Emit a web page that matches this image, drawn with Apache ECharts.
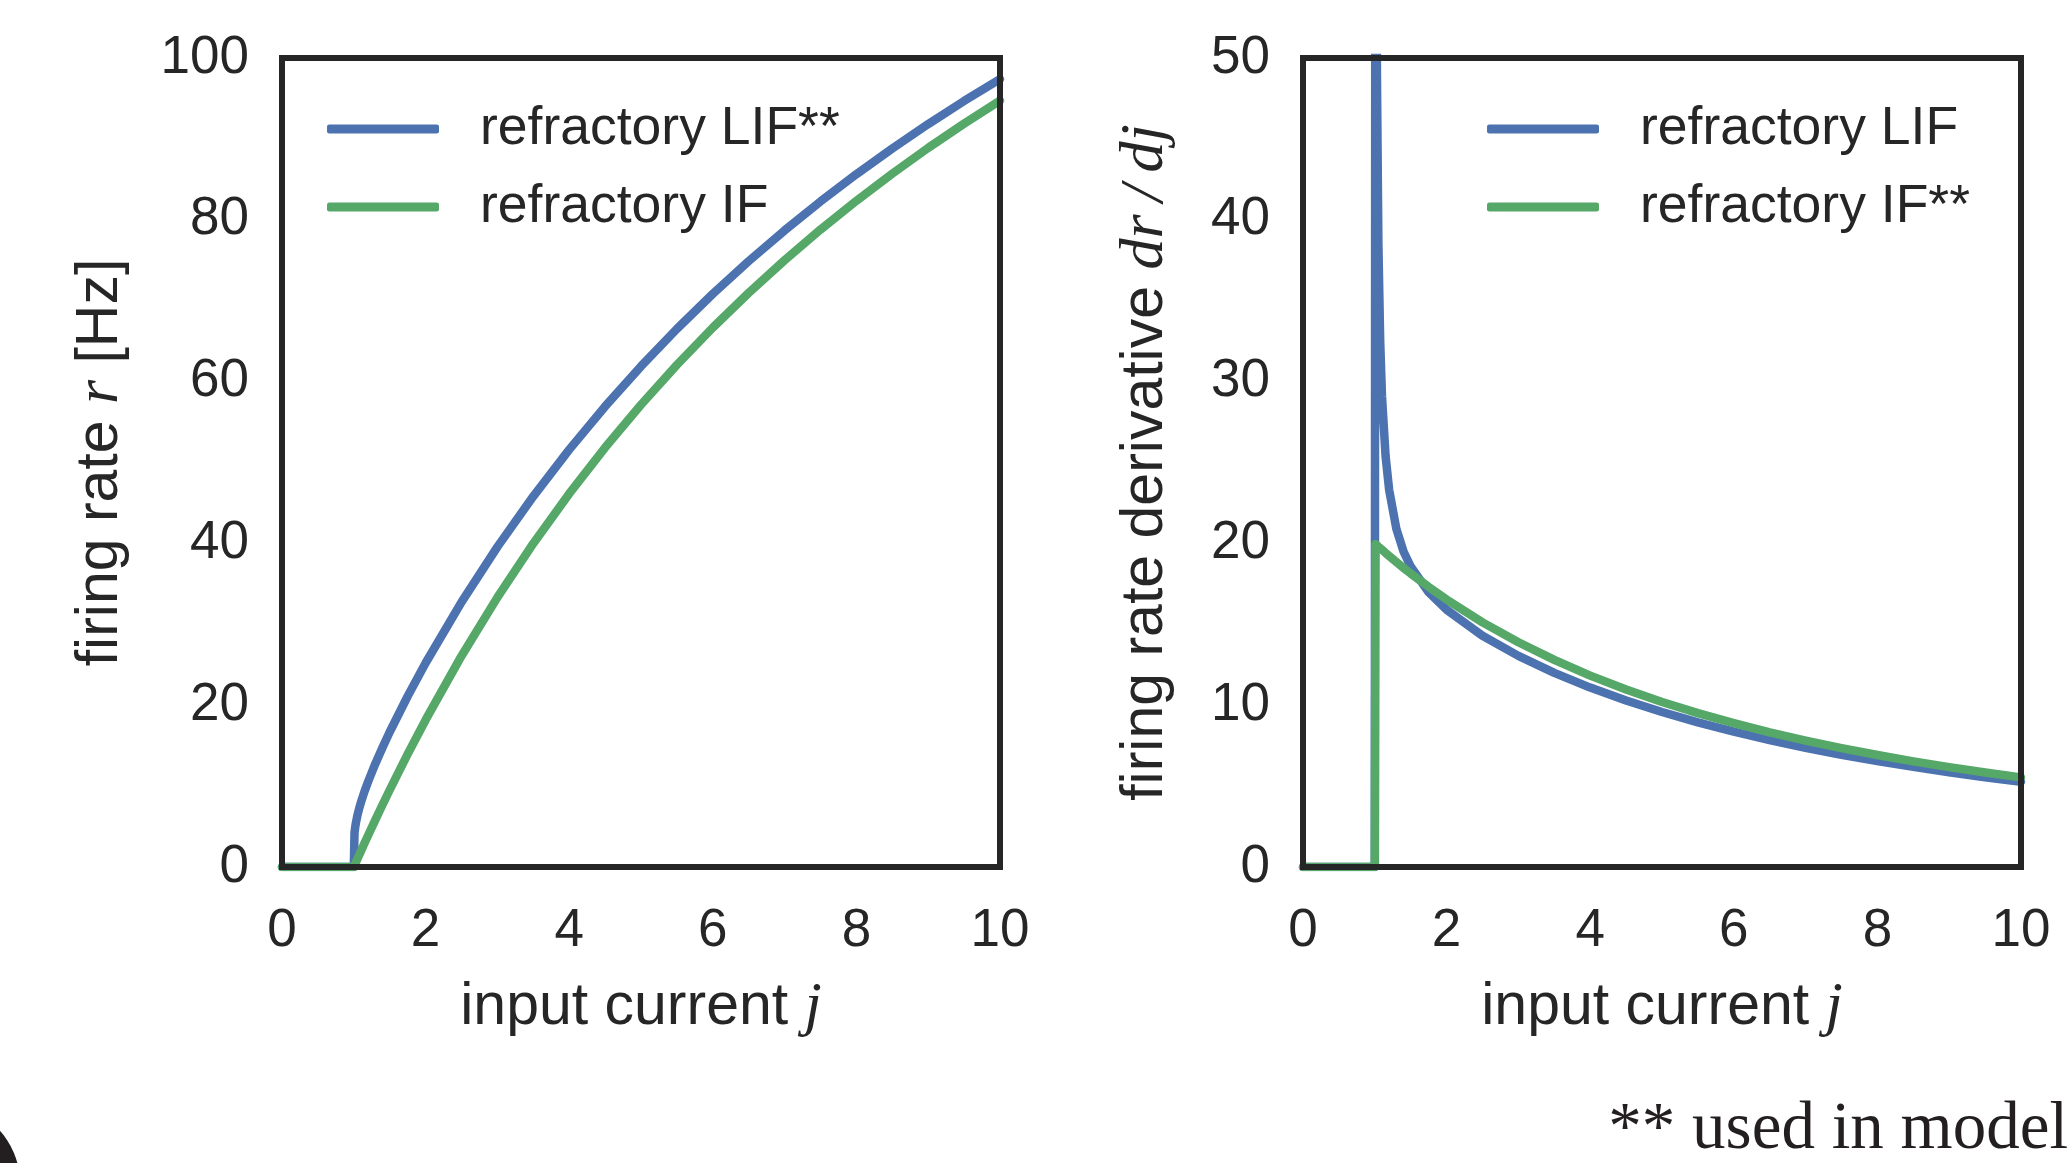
<!DOCTYPE html>
<html>
<head>
<meta charset="utf-8">
<title>firing rate</title>
<script src="https://cdn.jsdelivr.net/npm/echarts@6/dist/echarts.min.js"></script>
<style>
  html, body { margin: 0; padding: 0; background: #fff; }
  #chart { width: 2069px; height: 1163px; }
</style>
</head>
<body>
<div id="chart"></div>
<script>
// input current j (shared by all four curves)
const current = [0, 1, 1.01, 1.02, 1.03, 1.05, 1.075, 1.1, 1.15, 1.2, 1.3, 1.4, 1.5, 1.75, 2, 2.5,
  3, 3.5, 4, 4.5, 5, 5.5, 6, 6.5, 7, 7.5, 8, 8.5, 9, 9.5, 10];

// left panel: firing rate r [Hz]
const lifRate = [0, 0, 4.24, 4.96, 5.50, 6.36, 7.24, 8.01, 9.36, 10.57, 12.77, 14.78, 16.69, 21.11, 25.22, 32.74,
  39.57, 45.82, 51.59, 56.93, 61.89, 66.52, 70.84, 74.89, 78.69, 82.27, 85.64, 88.82, 91.83, 94.69, 97.39];
const ifRate = [0, 0, 0.20, 0.40, 0.60, 0.99, 1.49, 1.98, 2.96, 3.92, 5.83, 7.69, 9.52, 13.95, 18.18, 26.09,
  33.33, 40.00, 46.15, 51.85, 57.14, 62.07, 66.67, 70.97, 75.00, 78.79, 82.35, 85.71, 88.89, 91.89, 94.74];

// right panel: derivative dr/dj
const lifDeriv = [0, 0, 89.0, 60.3, 48.9, 38.5, 32.5, 29.1, 25.4, 23.3, 20.9, 19.5, 18.57, 16.98, 15.90, 14.29,
  13.05, 12.00, 11.09, 10.29, 9.58, 8.94, 8.36, 7.84, 7.37, 6.94, 6.55, 6.19, 5.86, 5.55, 5.27];
const ifDeriv = [0, 0, 19.96, 19.92, 19.88, 19.80, 19.70, 19.61, 19.41, 19.22, 18.85, 18.49, 18.14, 17.31, 16.53, 15.12,
  13.89, 12.80, 11.83, 10.97, 10.20, 9.51, 8.89, 8.32, 7.81, 7.35, 6.92, 6.53, 6.17, 5.84, 5.54];

const xTicks = [0, 10, 2];       // min, max, interval
const rateTicks = [0, 100, 20];
const derivTicks = [0, 50, 10];

const BLUE = '#4c72b0';
const GREEN = '#55a868';
const INK = '#262626';
const SANS = '"Liberation Sans", Arial, sans-serif';

const pairs = (ys) => current.map((x, i) => [x, ys[i]]);

const spine = { show: true, onZero: false, lineStyle: { color: INK, width: 6, cap: 'square' } };

const mathRich = { m: { fontFamily: '"Liberation Serif", serif', fontStyle: 'italic', fontSize: 62, color: INK } };

const mainX = (grid, name) => ({
  type: 'value', gridIndex: grid, min: xTicks[0], max: xTicks[1], interval: xTicks[2], z: 10,
  axisLine: spine, axisTick: { show: false }, splitLine: { show: false },
  axisLabel: { fontSize: 53, color: INK, fontFamily: SANS, margin: 38 },
  name: name, nameLocation: 'middle', nameGap: 110,
  nameTextStyle: { fontSize: 59, color: INK, fontFamily: SANS, rich: mathRich }
});
const mainY = (grid, ticks, name, gap) => ({
  type: 'value', gridIndex: grid, min: ticks[0], max: ticks[1], interval: ticks[2], z: 10,
  axisLine: spine, axisTick: { show: false }, splitLine: { show: false },
  axisLabel: { fontSize: 53, color: INK, fontFamily: SANS, margin: 33 },
  name: name, nameLocation: 'middle', nameRotate: 90, nameGap: gap,
  nameTextStyle: { fontSize: 59, color: INK, fontFamily: SANS, rich: mathRich }
});
// top / right frame lines
const frameX = (grid) => ({
  type: 'value', gridIndex: grid, position: 'top', min: xTicks[0], max: xTicks[1], z: 10,
  axisLine: spine, axisTick: { show: false }, axisLabel: { show: false }, splitLine: { show: false }
});
const frameY = (grid, ticks) => ({
  type: 'value', gridIndex: grid, position: 'right', min: ticks[0], max: ticks[1], z: 10,
  axisLine: spine, axisTick: { show: false }, axisLabel: { show: false }, splitLine: { show: false }
});

const line = (name, color, xi, yi, ys) => ({
  name: name, type: 'line', xAxisIndex: xi, yAxisIndex: yi, data: pairs(ys),
  symbol: 'none', clip: true, color: color,
  lineStyle: { color: color, width: 8.5, cap: 'round', join: 'round' }
});

const legendBase = {
  orient: 'vertical', top: 102, padding: 0, itemWidth: 112, itemHeight: 9, itemGap: 24,
  icon: 'roundRect',
  textStyle: { fontSize: 53.5, lineHeight: 52, color: INK, fontFamily: SANS, padding: [0, 0, 0, 36] }
};

const chart = echarts.init(document.getElementById('chart'), null, { renderer: 'canvas' });
chart.setOption({
  backgroundColor: '#ffffff',
  animation: false,
  grid: [
    { left: 282, top: 58, width: 718, height: 809 },
    { left: 1303, top: 58, width: 718, height: 809 }
  ],
  xAxis: [
    mainX(0, 'input current {m|j}'),
    mainX(1, 'input current {m|j}'),
    frameX(0),
    frameX(1)
  ],
  yAxis: [
    mainY(0, rateTicks, 'firing rate {m|r} [Hz]', 150),
    mainY(1, derivTicks, 'firing rate derivative {m|dr\u2009/\u2009dj}', 126),
    frameY(0, rateTicks),
    frameY(1, derivTicks)
  ],
  legend: [
    Object.assign({}, legendBase, { left: 327, data: ['refractory LIF**', 'refractory IF'] }),
    Object.assign({}, legendBase, { left: 1487, data: ['refractory LIF', 'refractory IF**'] })
  ],
  series: [
    line('refractory LIF**', BLUE, 0, 0, lifRate),
    line('refractory IF', GREEN, 0, 0, ifRate),
    line('refractory LIF', BLUE, 1, 1, lifDeriv),
    line('refractory IF**', GREEN, 1, 1, ifDeriv)
  ],
  graphic: [
    {
      type: 'text', right: 1, top: 1097,
      style: { text: '** used in model', fontSize: 67, fontFamily: '"Liberation Serif", serif', fill: '#231f20' }
    },
    {
      type: 'circle', shape: { cx: -58, cy: 1183, r: 78 }, style: { fill: '#231f20' }
    }
  ]
});
</script>
</body>
</html>
